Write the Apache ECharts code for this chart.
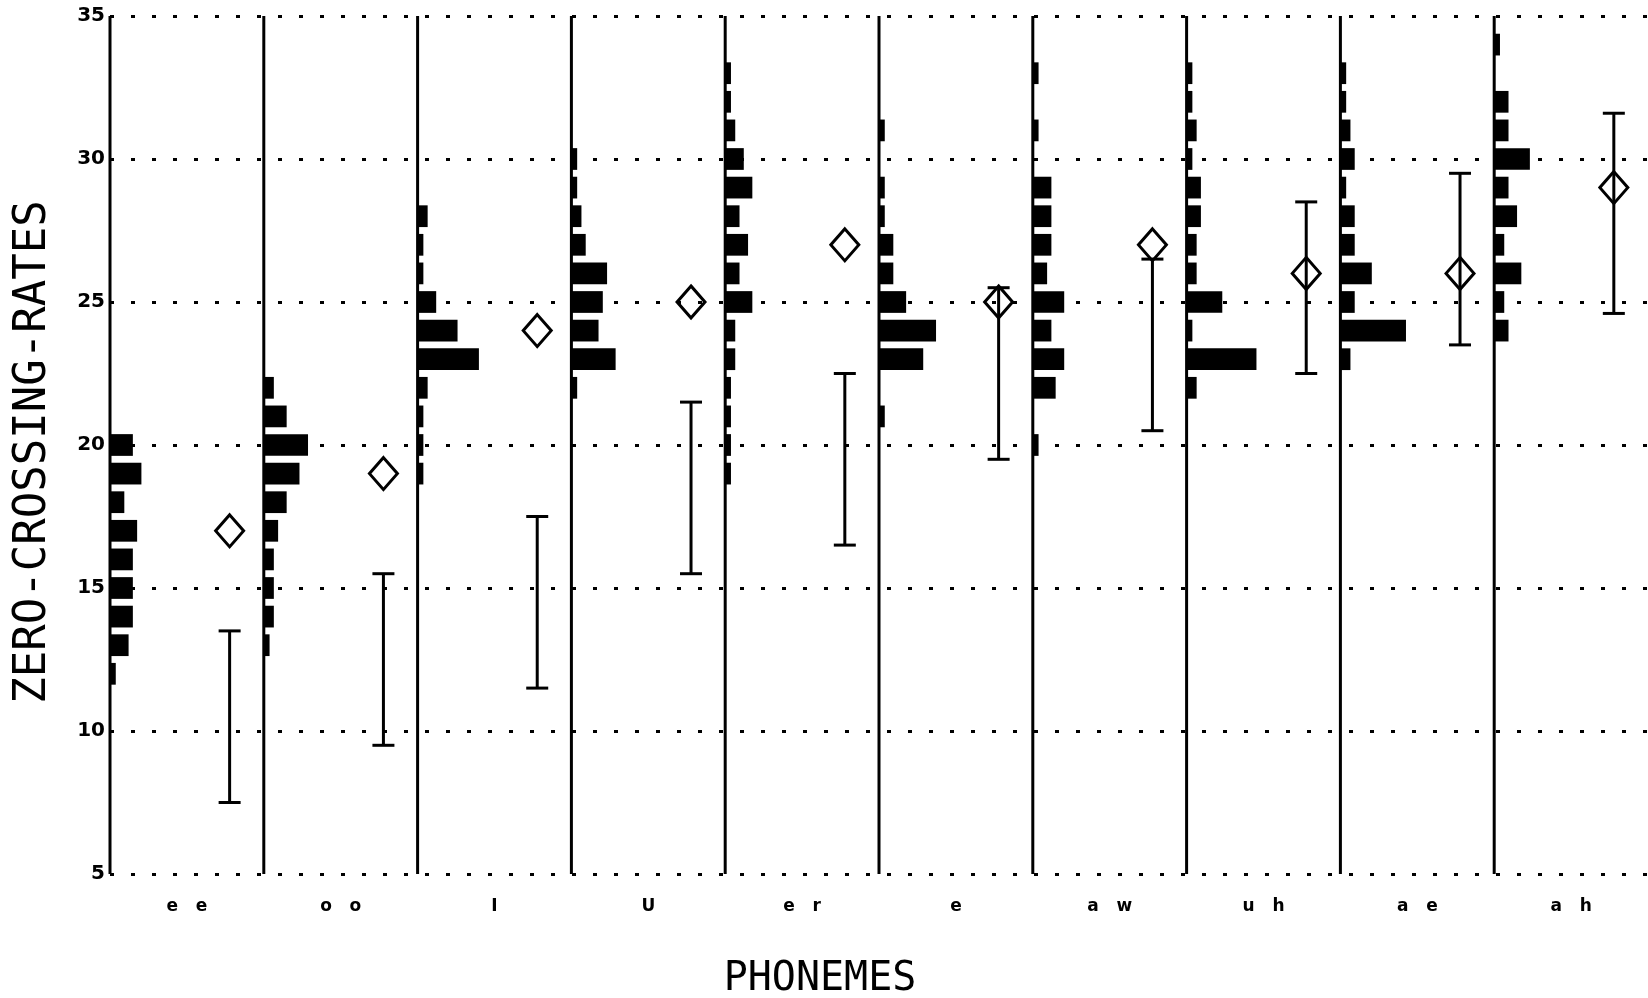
<!DOCTYPE html>
<html>
<head>
<meta charset="utf-8">
<script src="https://cdn.jsdelivr.net/npm/echarts@6/dist/echarts.min.js"></script>
<style>
html,body{margin:0;padding:0;background:#fff;}
#chart{width:1648px;height:998px;}
</style>
</head>
<body>
<div id="chart"></div>
<script>
// ---- data ----
const categories = ['e e','o o','I','U','e r','e','a w','u h','a e','a h'];
const means   = [17, 19, 24, 25, 27, 25, 27, 26, 26, 29];
const errLow  = [7.5, 9.5, 11.5, 15.5, 16.5, 19.5, 20.5, 22.5, 23.5, 24.6];
const errHigh = [13.5, 15.5, 17.5, 21.5, 22.5, 25.5, 26.5, 28.5, 29.5, 31.6];
const yTicks  = [5, 10, 15, 20, 25, 30, 35];

// histograms: [zero-crossing rate, count]
const histEE = [[12,1],[13,4],[14,5],[15,5],[16,5],[17,6],[18,3],[19,7],[20,5]];
const histOO = [[13,1],[14,2],[15,2],[16,2],[17,3],[18,5],[19,8],[20,10],[21,5],[22,2]];
const histI  = [[19,1],[20,1],[21,1],[22,2],[23,14],[24,9],[25,4],[26,1],[27,1],[28,2]];
const histU  = [[22,1],[23,10],[24,6],[25,7],[26,8],[27,3],[28,2],[29,1],[30,1]];
const histER = [[19,1],[20,1],[21,1],[22,1],[23,2],[24,2],[25,6],[26,3],[27,5],[28,3],[29,6],[30,4],[31,2],[32,1],[33,1]];
const histE  = [[21,1],[23,10],[24,13],[25,6],[26,3],[27,3],[28,1],[29,1],[31,1]];
const histAW = [[20,1],[22,5],[23,7],[24,4],[25,7],[26,3],[27,4],[28,4],[29,4],[31,1],[33,1]];
const histUH = [[22,2],[23,16],[24,1],[25,8],[26,2],[27,2],[28,3],[29,3],[30,1],[31,2],[32,1],[33,1]];
const histAE = [[23,2],[24,15],[25,3],[26,7],[27,3],[28,3],[29,1],[30,3],[31,2],[32,1],[33,1]];
const histAH = [[24,3],[25,2],[26,6],[27,2],[28,5],[29,3],[30,8],[31,3],[32,3],[34,1]];
const histograms = [histEE, histOO, histI, histU, histER, histE, histAW, histUH, histAE, histAH];

// ---- layout constants ----
const COL = 36;        // x-units per phoneme column (1 unit = 1 count)
const MEAN_OFF = 28;   // x offset of mean marker inside a column
const BAR_HALF = 0.38; // half bar height in rate units

const histData = [];
histograms.forEach((h, i) => h.forEach(([r, c]) => histData.push([i, r, c])));
const colData = categories.map((c, i) => [i]);
const errData = categories.map((c, i) => [i, errLow[i], errHigh[i]]);
const meanData = categories.map((c, i) => [i * COL + MEAN_OFF, means[i]]);

const chart = echarts.init(document.getElementById('chart'));
const mono = '"DejaVu Sans Mono", monospace';

chart.setOption({
  animation: false,
  backgroundColor: '#fff',
  grid: { left: 110, right: -2, top: 16, bottom: 124, containLabel: false },
  xAxis: [
    { type: 'value', min: 0, max: categories.length * COL, show: false },
    { type: 'category', data: categories, position: 'bottom', boundaryGap: true,
      axisLine: { show: false }, axisTick: { show: false }, splitLine: { show: false },
      axisLabel: { margin: 24, color: '#000', fontWeight: 'bold', fontSize: 17,
        fontFamily: '"DejaVu Sans", sans-serif',
        formatter: v => v.split(' ').join('   ') } }
  ],
  yAxis: {
    type: 'value', min: yTicks[0], max: yTicks[yTicks.length - 1], interval: 5,
    axisLine: { show: false }, axisTick: { show: false },
    axisLabel: { color: '#000', fontWeight: 'bold', fontSize: 20, margin: 5,
      fontFamily: '"DejaVu Sans", sans-serif' },
    splitLine: { show: true, lineStyle: { color: '#000', width: 3, type: [4, 17] } }
  },
  graphic: [
    { type: 'text', x: 34, y: 452, rotation: Math.PI / 2,
      style: { text: 'ZERO-CROSSING-RATES', font: '44px ' + mono, fill: '#000',
        textAlign: 'center', textVerticalAlign: 'middle' } },
    { type: 'text', x: 820, y: 980,
      style: { text: 'PHONEMES', font: '40px ' + mono, fill: '#000',
        textAlign: 'center', textVerticalAlign: 'middle' } }
  ],
  series: [
    { type: 'custom', xAxisIndex: 0, data: colData, z: 3,
      renderItem: (p, api) => {
        const i = api.value(0);
        const a = api.coord([i * COL, yTicks[0]]);
        const b = api.coord([i * COL, yTicks[yTicks.length - 1]]);
        return { type: 'line', shape: { x1: a[0], y1: a[1], x2: b[0], y2: b[1] },
          style: { stroke: '#000', lineWidth: 3 } };
      } },
    { type: 'custom', xAxisIndex: 0, data: histData, z: 4,
      renderItem: (p, api) => {
        const i = api.value(0), r = api.value(1), c = api.value(2);
        const a = api.coord([i * COL, r + BAR_HALF]);
        const b = api.coord([i * COL + c, r - BAR_HALF]);
        return { type: 'rect', shape: { x: a[0], y: a[1], width: b[0] - a[0] + 1.5, height: b[1] - a[1] },
          style: { fill: '#000' } };
      } },
    { type: 'custom', xAxisIndex: 0, data: errData, z: 5,
      renderItem: (p, api) => {
        const i = api.value(0);
        const lo = api.coord([i * COL + MEAN_OFF, api.value(1)]);
        const hi = api.coord([i * COL + MEAN_OFF, api.value(2)]);
        const st = { stroke: '#000', lineWidth: 3 };
        return { type: 'group', children: [
          { type: 'line', shape: { x1: lo[0], y1: lo[1], x2: hi[0], y2: hi[1] }, style: st },
          { type: 'line', shape: { x1: lo[0] - 11, y1: lo[1], x2: lo[0] + 11, y2: lo[1] }, style: st },
          { type: 'line', shape: { x1: hi[0] - 11, y1: hi[1], x2: hi[0] + 11, y2: hi[1] }, style: st }
        ] };
      } },
    { type: 'scatter', xAxisIndex: 0, data: meanData, z: 6,
      symbol: 'diamond', symbolSize: [28, 32],
      itemStyle: { color: 'rgba(0,0,0,0)', borderColor: '#000', borderWidth: 3, opacity: 1 } }
  ]
});
</script>
</body>
</html>
